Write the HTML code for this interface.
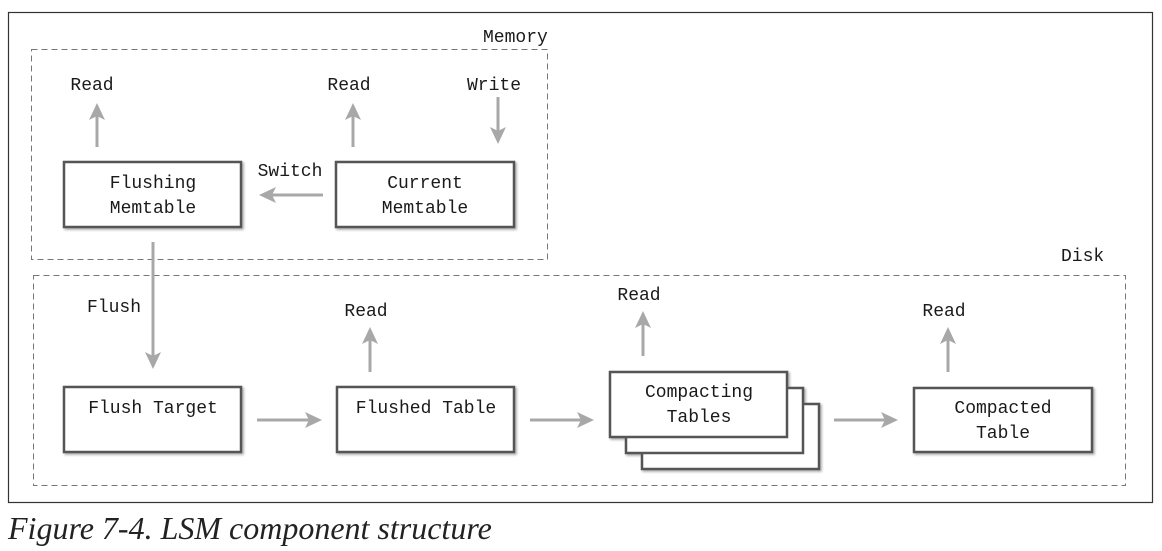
<!DOCTYPE html>
<html><head><style>
body{margin:0;background:#fff;width:1162px;height:551px;overflow:hidden}
svg text{font-family:"Liberation Mono",monospace;font-size:18px;fill:#1a1a1a}
.cap{position:absolute;left:8px;top:510px;font-family:"Liberation Serif",serif;font-style:italic;font-size:32px;color:#222}
</style></head><body>
<svg width="1162" height="551" style="position:absolute;left:0;top:0">
<defs>
<filter id="s"><feDropShadow dx="1.5" dy="1.5" stdDeviation="1.2" flood-opacity="0.35"/></filter>
</defs>
<rect x="8.5" y="12.5" width="1144" height="490" fill="none" stroke="#333" stroke-width="1.2"/>
<rect x="31.5" y="49.5" width="516" height="210" fill="none" stroke="#777" stroke-dasharray="6,4"/>
<rect x="33.5" y="275.5" width="1092" height="210" fill="none" stroke="#777" stroke-dasharray="6,4"/>
<text x="483" y="42">Memory</text>
<text x="1061" y="261">Disk</text>
<g fill="#fff" stroke="#555" stroke-width="2.5" filter="url(#s)">
<rect x="64" y="162" width="177" height="65"/>
<rect x="336" y="162" width="178" height="65"/>
<rect x="64" y="387" width="177" height="65"/>
<rect x="337" y="387" width="177" height="65"/>
<rect x="642" y="404" width="177" height="65"/>
<rect x="626" y="388" width="177" height="65"/>
<rect x="610" y="372" width="177" height="65"/>
<rect x="914" y="388" width="178" height="64"/>
</g>
<g text-anchor="middle">
<text x="153" y="188">Flushing</text><text x="153" y="213">Memtable</text>
<text x="425" y="188">Current</text><text x="425" y="213">Memtable</text>
<text x="153" y="413">Flush Target</text>
<text x="426" y="413">Flushed Table</text>
<text x="699" y="397">Compacting</text><text x="699" y="422">Tables</text>
<text x="1003" y="413">Compacted</text><text x="1003" y="438">Table</text>
<text x="92" y="90">Read</text><text x="349" y="90">Read</text><text x="494" y="90">Write</text>
<text x="290" y="176">Switch</text>
<text x="114" y="312">Flush</text>
<text x="366" y="316">Read</text><text x="639" y="300">Read</text><text x="944" y="316">Read</text>
</g>
<g stroke="#a8a8a8" stroke-width="3" fill="none">
<line x1="97" y1="147" x2="97" y2="106"/>
<path d="M89,120 L97,103 L105,120 L97,116Z" fill="#a8a8a8" stroke="none"/>
<line x1="353" y1="147" x2="353" y2="106"/>
<path d="M345,120 L353,103 L361,120 L353,116Z" fill="#a8a8a8" stroke="none"/>
<line x1="498" y1="97" x2="498" y2="140"/>
<path d="M490,127 L498,144 L506,127 L498,131Z" fill="#a8a8a8" stroke="none"/>
<line x1="323" y1="195" x2="262" y2="195"/>
<path d="M276,187 L259,195 L276,203 L272,195Z" fill="#a8a8a8" stroke="none"/>
<line x1="153" y1="242" x2="153" y2="365"/>
<path d="M145,352 L153,369 L161,352 L153,356Z" fill="#a8a8a8" stroke="none"/>
<line x1="257" y1="420" x2="316" y2="420"/>
<path d="M305,412 L322,420 L305,428 L309,420Z" fill="#a8a8a8" stroke="none"/>
<line x1="530" y1="420" x2="588" y2="420"/>
<path d="M577,412 L594,420 L577,428 L581,420Z" fill="#a8a8a8" stroke="none"/>
<line x1="834" y1="420" x2="892" y2="420"/>
<path d="M881,412 L898,420 L881,428 L885,420Z" fill="#a8a8a8" stroke="none"/>
<line x1="370" y1="372" x2="370" y2="330"/>
<path d="M362,344 L370,327 L378,344 L370,340Z" fill="#a8a8a8" stroke="none"/>
<line x1="643" y1="356" x2="643" y2="314"/>
<path d="M635,328 L643,311 L651,328 L643,324Z" fill="#a8a8a8" stroke="none"/>
<line x1="948" y1="372" x2="948" y2="330"/>
<path d="M940,344 L948,327 L956,344 L948,340Z" fill="#a8a8a8" stroke="none"/>
</g>
</svg>
<div class="cap">Figure 7-4. LSM component structure</div>
</body></html>
